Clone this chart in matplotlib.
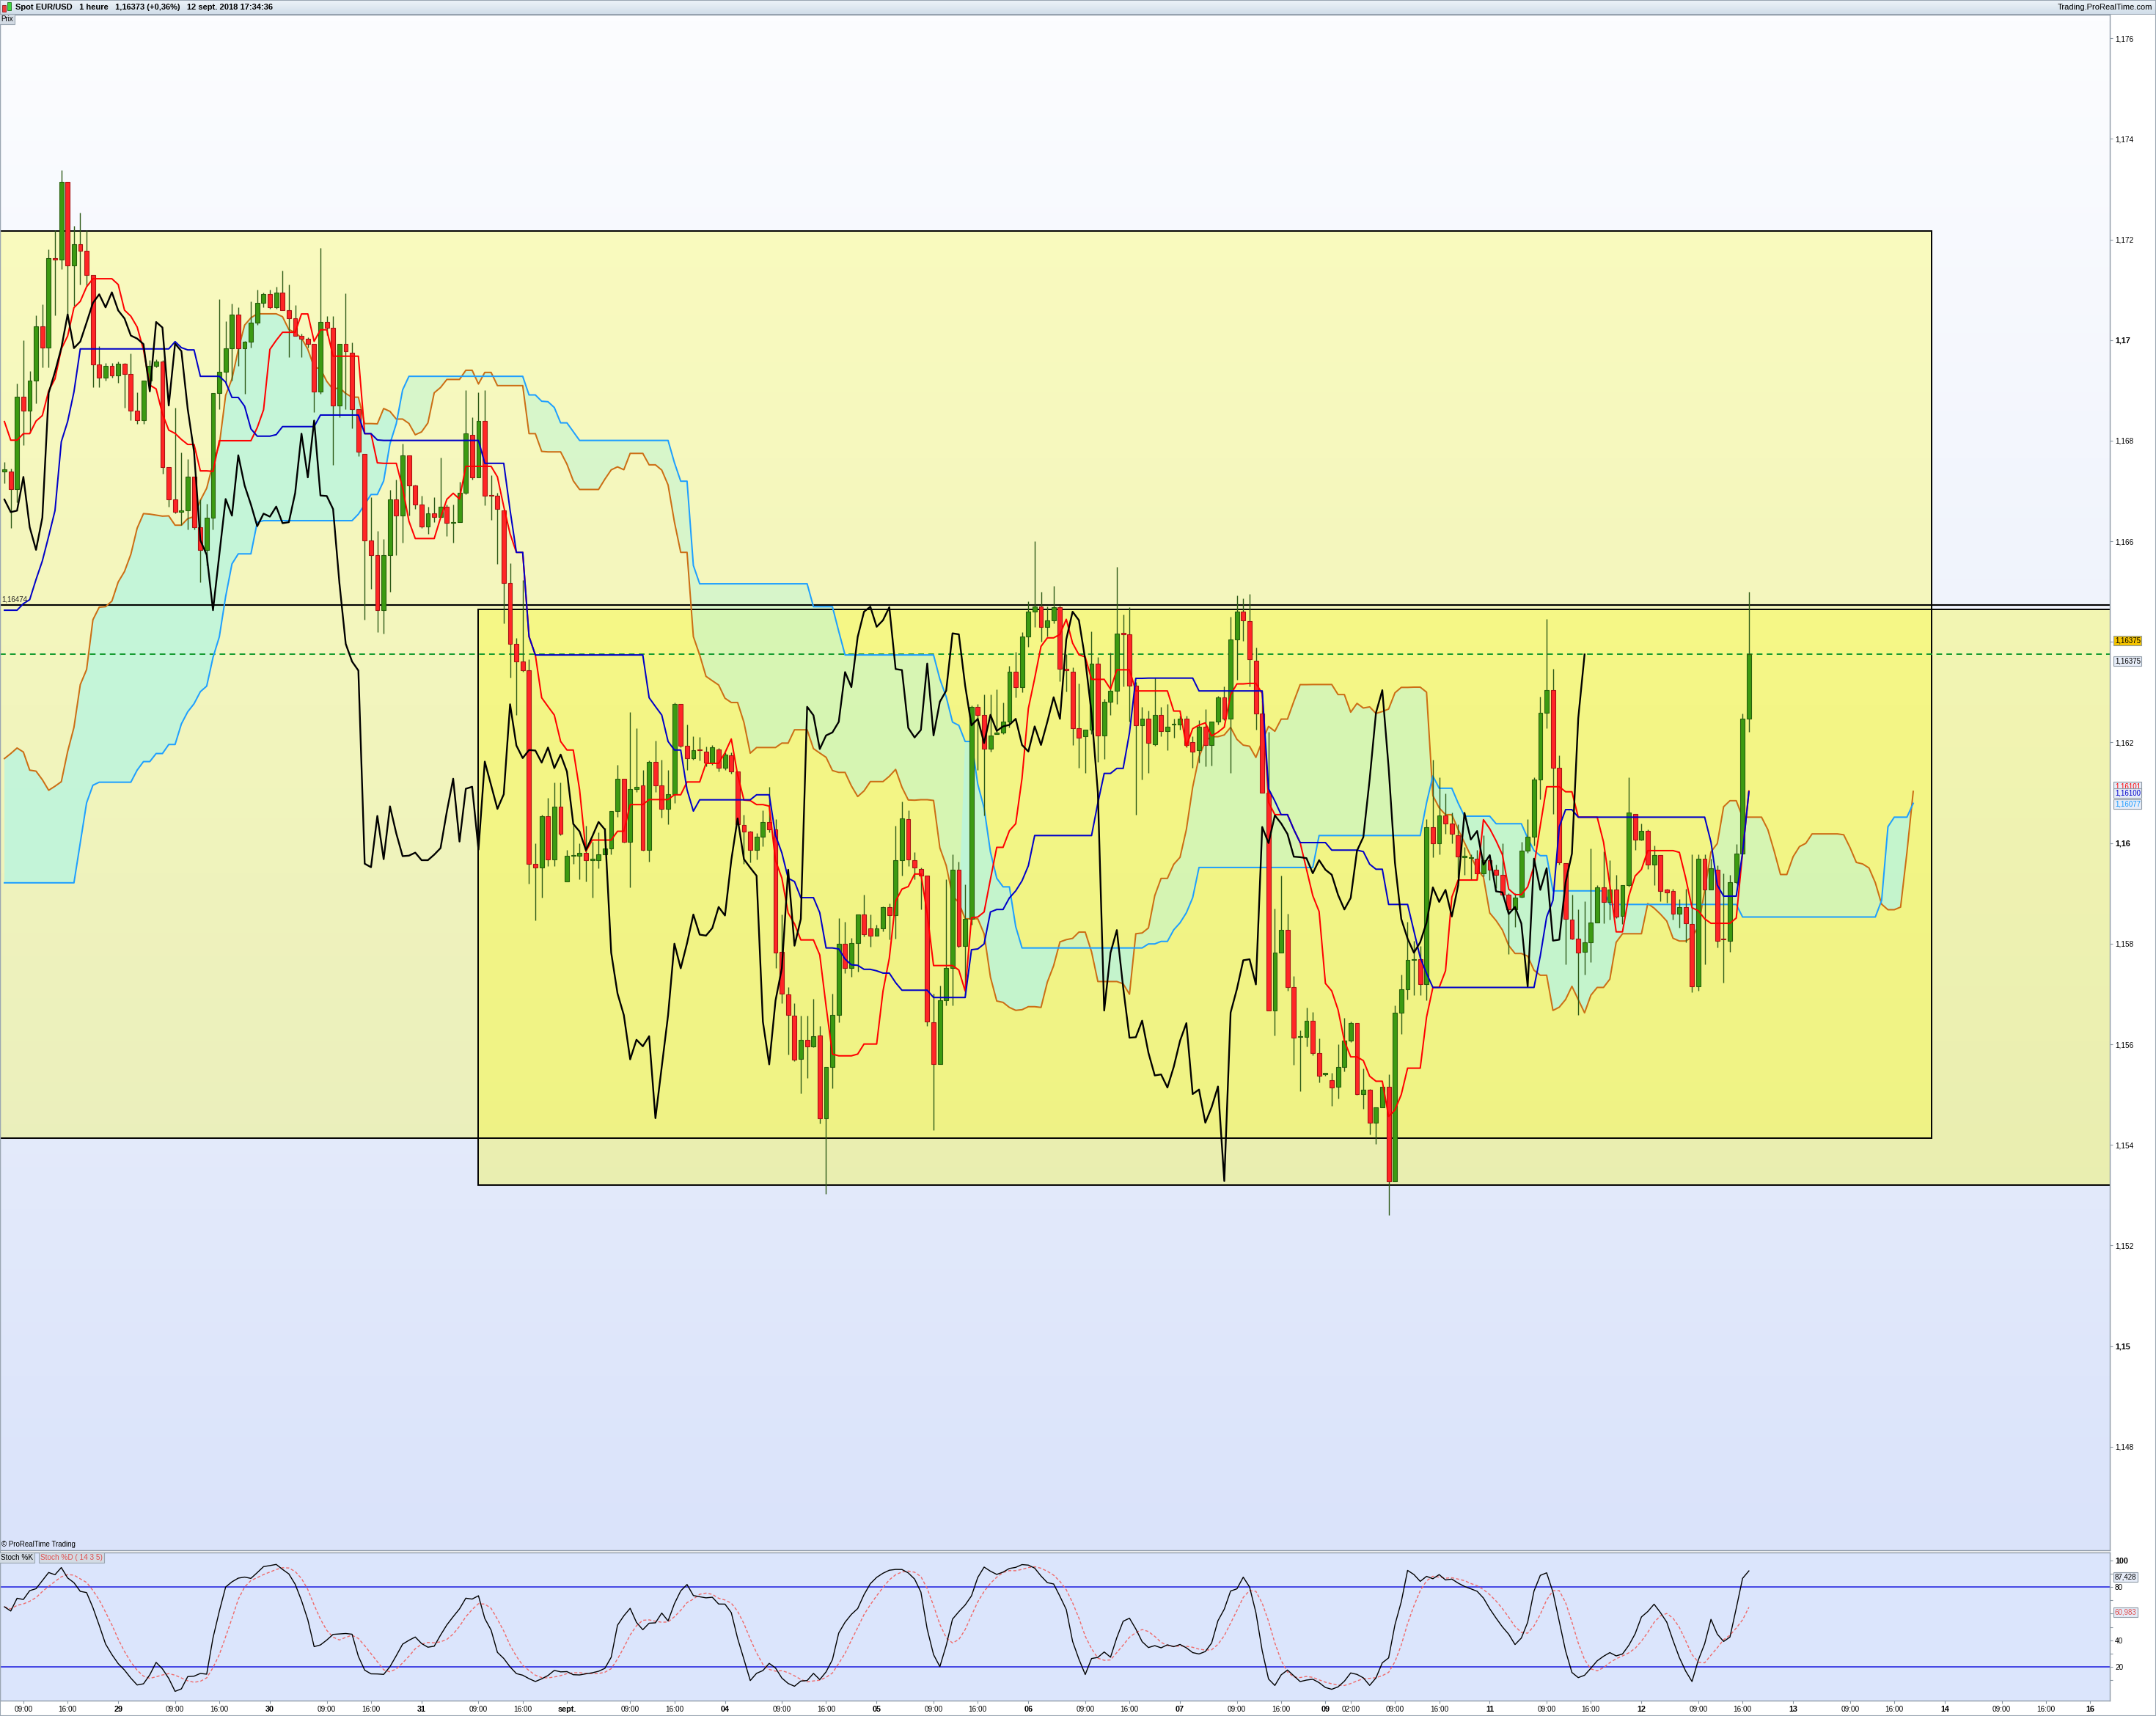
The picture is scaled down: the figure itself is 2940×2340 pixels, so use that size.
import numpy as np
import pandas as pd
import matplotlib
matplotlib.use("Agg")
import matplotlib.pyplot as plt
from matplotlib.patches import Rectangle
from matplotlib.colors import LinearSegmentedColormap

plt.rcParams['font.family'] = ['Liberation Sans', 'DejaVu Sans']

# trading sessions (date, first hour, last hour) -> one bar per hour
sessions = [("2018-08-28", 6, 23), ("2018-08-29", 0, 23), ("2018-08-30", 0, 23),
            ("2018-08-31", 0, 22), ("2018-09-02", 23, 23), ("2018-09-03", 0, 23),
            ("2018-09-04", 0, 23), ("2018-09-05", 0, 23), ("2018-09-06", 0, 23),
            ("2018-09-07", 0, 22), ("2018-09-09", 22, 23), ("2018-09-10", 0, 23),
            ("2018-09-11", 0, 23), ("2018-09-12", 0, 23), ("2018-09-13", 0, 23),
            ("2018-09-14", 0, 22), ("2018-09-16", 22, 23)]

# EUR/USD hourly candles, 28 Aug 06:00 -> 12 Sep 17:00
opens = [
 1.16738, 1.16739, 1.16704, 1.16888, 1.16860, 1.16920, 1.17028, 1.16985, 1.17163, 1.17160,
 1.17315, 1.17149, 1.17191, 1.17177, 1.17129, 1.16951, 1.16925, 1.16949, 1.16930, 1.16953,
 1.16933, 1.16860, 1.16841, 1.16919, 1.16949, 1.16957, 1.16747, 1.16683, 1.16658, 1.16661,
 1.16728, 1.16628, 1.16583, 1.16647, 1.16895, 1.16937, 1.16984, 1.17051, 1.16984, 1.16997,
 1.17035, 1.17074, 1.17091, 1.17065, 1.17095, 1.17059, 1.17043, 1.17009, 1.17003, 1.16992,
 1.16898, 1.17036, 1.17025, 1.16870, 1.16993, 1.16975, 1.16863, 1.16774, 1.16602, 1.16573,
 1.16463, 1.16573, 1.16684, 1.16651, 1.16771, 1.16711, 1.16673, 1.16630, 1.16655, 1.16649,
 1.16669, 1.16636, 1.16638, 1.16696, 1.16812, 1.16727, 1.16840, 1.16691, 1.16690, 1.16662,
 1.16517, 1.16396, 1.16361, 1.16343, 1.15959, 1.15952, 1.16054, 1.15968, 1.16073, 1.15923,
 1.15974, 1.15975, 1.15981, 1.15966, 1.15966, 1.15977, 1.15990, 1.16063, 1.16128, 1.16003,
 1.16108, 1.16115, 1.15987, 1.16162, 1.16115, 1.16068, 1.16097, 1.16276, 1.16194, 1.16169,
 1.16185, 1.16182, 1.16160, 1.16186, 1.16149, 1.16175, 1.16142, 1.16036, 1.16023, 1.15986,
 1.16012, 1.16042, 1.16027, 1.15784, 1.15699, 1.15657, 1.15571, 1.15609, 1.15596, 1.15617,
 1.15453, 1.15555, 1.15658, 1.15800, 1.15751, 1.15801, 1.15858, 1.15831, 1.15816, 1.15831,
 1.15873, 1.15856, 1.15966, 1.16047, 1.15966, 1.15949, 1.15935, 1.15644, 1.15560, 1.15687,
 1.15751, 1.15947, 1.15796, 1.15849, 1.16271, 1.16254, 1.16187, 1.16216, 1.16219, 1.16241,
 1.16340, 1.16310, 1.16410, 1.16460, 1.16470, 1.16430, 1.16443, 1.16469, 1.16346, 1.16340,
 1.16229, 1.16212, 1.16225, 1.16357, 1.16214, 1.16281, 1.16303, 1.16417, 1.16415, 1.16313,
 1.16234, 1.16247, 1.16197, 1.16255, 1.16223, 1.16235, 1.16235, 1.16247, 1.16201, 1.16184,
 1.16232, 1.16195, 1.16241, 1.16290, 1.16247, 1.16405, 1.16460, 1.16441, 1.16363, 1.16258,
 1.16100, 1.15667, 1.15782, 1.15827, 1.15713, 1.15614, 1.15614, 1.15647, 1.15583, 1.15540,
 1.15528, 1.15516, 1.15555, 1.15607, 1.15642, 1.15501, 1.15510, 1.15444, 1.15475, 1.15516,
 1.15328, 1.15663, 1.15710, 1.15767, 1.15769, 1.15719, 1.16032, 1.16000, 1.16055, 1.16039,
 1.16015, 1.15972, 1.15970, 1.15969, 1.15940, 1.15966, 1.15947, 1.15937, 1.15897, 1.15868,
 1.15893, 1.15985, 1.16012, 1.16127, 1.16259, 1.16304, 1.16149, 1.15960, 1.15848, 1.15810,
 1.15783, 1.15803, 1.15842, 1.15912, 1.15883, 1.15907, 1.15855, 1.15916, 1.16058, 1.16007,
 1.16024, 1.15957, 1.15976, 1.15907, 1.15905, 1.15859, 1.15873, 1.15839, 1.15715, 1.15969,
 1.15907, 1.15947, 1.15809, 1.15806, 1.15922, 1.15979, 1.16248]
highs = [
 1.16758, 1.16745, 1.16914, 1.17000, 1.16939, 1.17049, 1.17071, 1.17181, 1.17219, 1.17338,
 1.17315, 1.17227, 1.17254, 1.17219, 1.17129, 1.16988, 1.16955, 1.16955, 1.16958, 1.16954,
 1.16973, 1.16896, 1.16919, 1.16960, 1.16962, 1.16960, 1.16747, 1.16866, 1.16777, 1.16763,
 1.16728, 1.16684, 1.16675, 1.16895, 1.17082, 1.17037, 1.17073, 1.17065, 1.16998, 1.17077,
 1.17100, 1.17095, 1.17100, 1.17106, 1.17138, 1.17110, 1.17070, 1.17013, 1.17005, 1.16992,
 1.17184, 1.17048, 1.17048, 1.16993, 1.17093, 1.16995, 1.16863, 1.16774, 1.16687, 1.16621,
 1.16604, 1.16702, 1.16722, 1.16794, 1.16771, 1.16713, 1.16691, 1.16669, 1.16687, 1.16767,
 1.16673, 1.16673, 1.16718, 1.16901, 1.16847, 1.16896, 1.16901, 1.16731, 1.16696, 1.16662,
 1.16557, 1.16407, 1.16523, 1.16365, 1.15999, 1.16057, 1.16090, 1.16120, 1.16120, 1.15986,
 1.16039, 1.15999, 1.16035, 1.16003, 1.16021, 1.16030, 1.16063, 1.16155, 1.16128, 1.16261,
 1.16229, 1.16146, 1.16164, 1.16203, 1.16166, 1.16146, 1.16280, 1.16276, 1.16236, 1.16213,
 1.16211, 1.16192, 1.16195, 1.16189, 1.16180, 1.16180, 1.16142, 1.16057, 1.16025, 1.16020,
 1.16065, 1.16112, 1.16048, 1.15858, 1.15714, 1.15681, 1.15657, 1.15657, 1.15691, 1.15637,
 1.15555, 1.15701, 1.15851, 1.15844, 1.15811, 1.15858, 1.15898, 1.15858, 1.15838, 1.15874,
 1.15880, 1.16035, 1.16083, 1.16065, 1.15982, 1.15951, 1.15935, 1.15700, 1.15717, 1.15928,
 1.15978, 1.15963, 1.15918, 1.16273, 1.16276, 1.16296, 1.16296, 1.16306, 1.16279, 1.16352,
 1.16380, 1.16420, 1.16480, 1.16600, 1.16500, 1.16470, 1.16511, 1.16472, 1.16376, 1.16350,
 1.16318, 1.16225, 1.16421, 1.16370, 1.16286, 1.16379, 1.16549, 1.16454, 1.16469, 1.16320,
 1.16270, 1.16264, 1.16329, 1.16270, 1.16277, 1.16247, 1.16253, 1.16253, 1.16212, 1.16244,
 1.16267, 1.16241, 1.16292, 1.16312, 1.16450, 1.16493, 1.16486, 1.16495, 1.16389, 1.16284,
 1.16221, 1.15869, 1.15935, 1.15860, 1.15736, 1.15628, 1.15673, 1.15664, 1.15611, 1.15542,
 1.15543, 1.15600, 1.15652, 1.15645, 1.15642, 1.15552, 1.15511, 1.15475, 1.15516, 1.15540,
 1.15678, 1.15739, 1.15844, 1.15805, 1.15796, 1.16047, 1.16165, 1.16131, 1.16098, 1.16060,
 1.16038, 1.15992, 1.15977, 1.15986, 1.16016, 1.15977, 1.15957, 1.16000, 1.15900, 1.15900,
 1.16003, 1.16047, 1.16130, 1.16291, 1.16445, 1.16346, 1.16175, 1.15960, 1.15897, 1.15868,
 1.15885, 1.15989, 1.15917, 1.15983, 1.15966, 1.15937, 1.15916, 1.16131, 1.16058, 1.16039,
 1.16027, 1.15995, 1.15976, 1.15909, 1.15909, 1.15888, 1.15909, 1.15977, 1.15977, 1.15977,
 1.15969, 1.15956, 1.15940, 1.15937, 1.15998, 1.16258, 1.16500]
lows = [
 1.16715, 1.16627, 1.16678, 1.16791, 1.16816, 1.16874, 1.16945, 1.16945, 1.17049, 1.17141,
 1.17049, 1.17068, 1.17111, 1.17108, 1.16906, 1.16906, 1.16920, 1.16925, 1.16915, 1.16865,
 1.16841, 1.16833, 1.16833, 1.16899, 1.16945, 1.16734, 1.16669, 1.16656, 1.16632, 1.16623,
 1.16624, 1.16518, 1.16552, 1.16623, 1.16863, 1.16911, 1.16920, 1.16948, 1.16893, 1.16985,
 1.17030, 1.17065, 1.17062, 1.17063, 1.17059, 1.16966, 1.17008, 1.16966, 1.16985, 1.16857,
 1.16893, 1.17010, 1.16752, 1.16847, 1.16863, 1.16825, 1.16770, 1.16444, 1.16505, 1.16419,
 1.16417, 1.16499, 1.16573, 1.16597, 1.16651, 1.16664, 1.16627, 1.16615, 1.16638, 1.16648,
 1.16611, 1.16597, 1.16638, 1.16693, 1.16722, 1.16727, 1.16671, 1.16642, 1.16555, 1.16437,
 1.16329, 1.16255, 1.16340, 1.15920, 1.15847, 1.15892, 1.15955, 1.15955, 1.16015, 1.15923,
 1.15959, 1.15928, 1.15923, 1.15892, 1.15950, 1.15977, 1.15977, 1.16052, 1.16001, 1.15912,
 1.16102, 1.15985, 1.15963, 1.16102, 1.16050, 1.16037, 1.16079, 1.16191, 1.16146, 1.16166,
 1.16164, 1.16152, 1.16155, 1.16142, 1.16145, 1.16138, 1.16036, 1.15958, 1.15961, 1.15968,
 1.15993, 1.16022, 1.15751, 1.15681, 1.15580, 1.15567, 1.15503, 1.15533, 1.15594, 1.15443,
 1.15303, 1.15513, 1.15644, 1.15741, 1.15734, 1.15744, 1.15814, 1.15794, 1.15816, 1.15824,
 1.15808, 1.15810, 1.15935, 1.15955, 1.15928, 1.15868, 1.15637, 1.15430, 1.15560, 1.15677,
 1.15677, 1.15792, 1.15697, 1.15838, 1.16145, 1.16055, 1.16182, 1.16216, 1.16216, 1.16230,
 1.16290, 1.16300, 1.16390, 1.16430, 1.16400, 1.16410, 1.16437, 1.16322, 1.16301, 1.16195,
 1.16149, 1.16140, 1.16216, 1.16162, 1.16167, 1.16254, 1.16277, 1.16312, 1.16241, 1.16056,
 1.16126, 1.16140, 1.16193, 1.16212, 1.16184, 1.16209, 1.16225, 1.16190, 1.16149, 1.16160,
 1.16152, 1.16154, 1.16235, 1.16244, 1.16140, 1.16325, 1.16402, 1.16312, 1.16225, 1.16100,
 1.15667, 1.15618, 1.15782, 1.15706, 1.15559, 1.15507, 1.15595, 1.15578, 1.15524, 1.15538,
 1.15477, 1.15492, 1.15546, 1.15604, 1.15499, 1.15471, 1.15421, 1.15401, 1.15474, 1.15261,
 1.15327, 1.15620, 1.15689, 1.15698, 1.15697, 1.15688, 1.15972, 1.15977, 1.16018, 1.16000,
 1.15931, 1.15937, 1.15928, 1.15928, 1.15934, 1.15926, 1.15911, 1.15894, 1.15779, 1.15833,
 1.15891, 1.15981, 1.15995, 1.16087, 1.16229, 1.16058, 1.15957, 1.15759, 1.15808, 1.15658,
 1.15738, 1.15764, 1.15842, 1.15841, 1.15848, 1.15851, 1.15839, 1.15914, 1.15986, 1.16006,
 1.15949, 1.15916, 1.15884, 1.15882, 1.15848, 1.15832, 1.15803, 1.15704, 1.15707, 1.15759,
 1.15907, 1.15793, 1.15722, 1.15784, 1.15920, 1.15977, 1.16221]
closes = [
 1.16743, 1.16704, 1.16887, 1.16860, 1.16920, 1.17028, 1.16985, 1.17163, 1.17160, 1.17315,
 1.17149, 1.17191, 1.17177, 1.17129, 1.16951, 1.16925, 1.16949, 1.16930, 1.16953, 1.16933,
 1.16860, 1.16841, 1.16919, 1.16949, 1.16957, 1.16747, 1.16683, 1.16658, 1.16661, 1.16728,
 1.16628, 1.16583, 1.16647, 1.16895, 1.16937, 1.16984, 1.17051, 1.16984, 1.16997, 1.17035,
 1.17074, 1.17091, 1.17065, 1.17095, 1.17059, 1.17043, 1.17009, 1.17003, 1.16992, 1.16898,
 1.17036, 1.17025, 1.16870, 1.16993, 1.16978, 1.16863, 1.16778, 1.16602, 1.16573, 1.16463,
 1.16573, 1.16684, 1.16651, 1.16771, 1.16711, 1.16673, 1.16630, 1.16655, 1.16649, 1.16669,
 1.16636, 1.16638, 1.16696, 1.16814, 1.16727, 1.16840, 1.16691, 1.16690, 1.16664, 1.16517,
 1.16396, 1.16361, 1.16343, 1.15959, 1.15952, 1.16054, 1.15968, 1.16073, 1.16019, 1.15974,
 1.15975, 1.15981, 1.15966, 1.15966, 1.15977, 1.15990, 1.16063, 1.16128, 1.16003, 1.16108,
 1.16112, 1.15987, 1.16162, 1.16115, 1.16068, 1.16097, 1.16276, 1.16194, 1.16169, 1.16185,
 1.16184, 1.16160, 1.16190, 1.16149, 1.16176, 1.16142, 1.16038, 1.16023, 1.15986, 1.16013,
 1.16042, 1.16027, 1.15782, 1.15701, 1.15658, 1.15570, 1.15609, 1.15596, 1.15616, 1.15453,
 1.15555, 1.15658, 1.15800, 1.15751, 1.15801, 1.15858, 1.15818, 1.15816, 1.15831, 1.15873,
 1.15856, 1.15966, 1.16049, 1.15968, 1.15951, 1.15935, 1.15645, 1.15560, 1.15687, 1.15751,
 1.15947, 1.15796, 1.15849, 1.16271, 1.16254, 1.16187, 1.16214, 1.16220, 1.16241, 1.16340,
 1.16310, 1.16410, 1.16460, 1.16470, 1.16430, 1.16443, 1.16469, 1.16346, 1.16344, 1.16229,
 1.16210, 1.16225, 1.16357, 1.16214, 1.16281, 1.16303, 1.16417, 1.16415, 1.16313, 1.16234,
 1.16247, 1.16199, 1.16255, 1.16223, 1.16232, 1.16235, 1.16247, 1.16195, 1.16182, 1.16232,
 1.16195, 1.16241, 1.16290, 1.16247, 1.16405, 1.16460, 1.16443, 1.16365, 1.16258, 1.16100,
 1.15667, 1.15782, 1.15827, 1.15713, 1.15613, 1.15614, 1.15647, 1.15583, 1.15538, 1.15540,
 1.15514, 1.15555, 1.15607, 1.15642, 1.15501, 1.15510, 1.15444, 1.15475, 1.15516, 1.15328,
 1.15663, 1.15710, 1.15767, 1.15769, 1.15719, 1.16032, 1.16000, 1.16055, 1.16039, 1.16018,
 1.15973, 1.15972, 1.15970, 1.15940, 1.15966, 1.15947, 1.15937, 1.15897, 1.15868, 1.15891,
 1.15985, 1.16012, 1.16127, 1.16259, 1.16304, 1.16150, 1.15961, 1.15849, 1.15810, 1.15782,
 1.15803, 1.15842, 1.15912, 1.15883, 1.15907, 1.15854, 1.15916, 1.16060, 1.16007, 1.16024,
 1.15957, 1.15976, 1.15904, 1.15902, 1.15859, 1.15873, 1.15840, 1.15715, 1.15969, 1.15907,
 1.15950, 1.15806, 1.15808, 1.15922, 1.15979, 1.16248, 1.16375]

# indicator values at the left edge (their history starts before the first visible bar)
tenkan_lead = [1.16838, 1.16801, 1.16801, 1.16814, 1.16814, 1.16839, 1.16850, 1.16899]
kijun_lead = [1.16463, 1.16463, 1.16463, 1.16476, 1.16484, 1.16524, 1.16561, 1.16610,
              1.16661, 1.16798, 1.16838, 1.16897]
span_a_lead = [1.16168, 1.16178, 1.16189, 1.16181, 1.16145, 1.16143, 1.16126, 1.16105,
               1.16113, 1.16122, 1.16182, 1.16230, 1.16315, 1.16345, 1.16444, 1.16469,
               1.16470, 1.16481, 1.16519, 1.16540, 1.16574, 1.16626, 1.16655, 1.16654,
               1.16652, 1.16650]
span_b_lead = [1.15921, 1.15921, 1.15921, 1.15921, 1.15921, 1.15921, 1.15921, 1.15921,
               1.15921, 1.15921, 1.15921, 1.15921, 1.16000, 1.16080, 1.16115, 1.16121,
               1.16121, 1.16121, 1.16121, 1.16121, 1.16121, 1.16145, 1.16162, 1.16162,
               1.16178, 1.16178, 1.16196, 1.16196, 1.16237, 1.16261, 1.16277, 1.16301,
               1.16312, 1.16369, 1.16410, 1.16490, 1.16555, 1.16575, 1.16575, 1.16575,
               1.16638, 1.16641, 1.16641, 1.16641, 1.16641, 1.16641, 1.16641, 1.16641,
               1.16641, 1.16641, 1.16641, 1.16641, 1.16641, 1.16641, 1.16641, 1.16641,
               1.16654, 1.16673, 1.16693, 1.16693, 1.16720, 1.16794, 1.16834, 1.16901]

# drawn objects
hline_level = 1.16474
last_price = 1.16375
zone_wide = (-5.0, 304.9, 1.15413, 1.17217)     # start bar, end bar, low, high
zone_range = (74.9, 340.0, 1.15320, 1.16465)
cloud_tint_swap = 152                            # bar where the two cloud tints trade places

# right-axis value markers
price_marks = [("1,16375", 1.16375, '#f5c400', 'black', -19),
               ("1,16375", 1.16375, '#e6ecf8', 'black', 9),
               ("1,16101", 1.16101, '#e6ecf8', '#ff0000', -8),
               ("1,16100", 1.16100, '#e6ecf8', '#0000cc', 0),
               ("1,16077", 1.16077, '#e6ecf8', '#1a9cff', 0)]
stoch_marks = [("87,428", 87.428, 'black'), ("60,983", 60.983, '#e05050')]
hidden_price_ticks = [1.164]                     # covered by the price markers

tick_stamps = ["2018-08-28 09:00", "2018-08-28 16:00", "2018-08-29 00:00", "2018-08-29 09:00",
               "2018-08-29 16:00", "2018-08-30 00:00", "2018-08-30 09:00", "2018-08-30 16:00",
               "2018-08-31 00:00", "2018-08-31 09:00", "2018-08-31 16:00", "2018-09-02 23:00",
               "2018-09-03 09:00", "2018-09-03 16:00", "2018-09-04 00:00", "2018-09-04 09:00",
               "2018-09-04 16:00", "2018-09-05 00:00", "2018-09-05 09:00", "2018-09-05 16:00",
               "2018-09-06 00:00", "2018-09-06 09:00", "2018-09-06 16:00", "2018-09-07 00:00",
               "2018-09-07 09:00", "2018-09-07 16:00", "2018-09-09 22:00", "2018-09-10 02:00",
               "2018-09-10 09:00", "2018-09-10 16:00", "2018-09-11 00:00", "2018-09-11 09:00",
               "2018-09-11 16:00", "2018-09-12 00:00", "2018-09-12 09:00", "2018-09-12 16:00",
               "2018-09-13 00:00", "2018-09-13 09:00", "2018-09-13 16:00", "2018-09-14 00:00",
               "2018-09-14 09:00", "2018-09-14 16:00", "2018-09-16 22:00"]

# ---- bar index / calendar
stamps = []
session_starts = set()
for day, h0, h1 in sessions:
    session_starts.add(f"{day} {h0:02d}:00")
    for hr in range(h0, h1 + 1):
        stamps.append(f"{day} {hr:02d}:00")
bar_of = {s: i for i, s in enumerate(stamps)}

o = np.array(opens); h = np.array(highs); l = np.array(lows); c = np.array(closes)
n = len(c)
x = np.arange(n)

# ---- ichimoku
hs, ls, cs = pd.Series(h), pd.Series(l), pd.Series(c)
tenkan = ((hs.rolling(9, min_periods=1).max() + ls.rolling(9, min_periods=1).min()) / 2).values
tenkan[:len(tenkan_lead)] = tenkan_lead
kijun = ((hs.rolling(26, min_periods=1).max() + ls.rolling(26, min_periods=1).min()) / 2).values
kijun[:len(kijun_lead)] = kijun_lead
mid52 = ((hs.rolling(52, min_periods=1).max() + ls.rolling(52, min_periods=1).min()) / 2).values
span_a = np.concatenate([span_a_lead, (tenkan + kijun) / 2])
span_b = np.concatenate([np.full(26, np.nan), mid52])
span_b[:len(span_b_lead)] = span_b_lead
xs = np.arange(len(span_a))

# ---- stochastic 14 3 5
ll = ls.rolling(14, min_periods=1).min()
hh = hs.rolling(14, min_periods=1).max()
raw = 100 * (cs - ll) / (hh - ll)
stoch_k = raw.rolling(3, min_periods=1).mean()
stoch_d = stoch_k.rolling(5, min_periods=1).mean()

# ---- figure
W, H = 2940, 2340
fig = plt.figure(figsize=(W / 100, H / 100), dpi=100)
fig.patch.set_facecolor('white')

xlim = (-0.7, 333.1)
ylim = (1.14594, 1.17647)
axis_x = 2877 / W

ax = fig.add_axes([0, 1 - 2114 / H, axis_x, (2114 - 20) / H])
ax.set_xlim(*xlim)
ax.set_ylim(*ylim)

bg = LinearSegmentedColormap.from_list('bg', [(0, '#dae3fa'), (0.55, '#eef2fc'), (1, '#fcfdff')])
ax.imshow(np.linspace(0, 1, 256).reshape(-1, 1), cmap=bg, origin='lower', aspect='auto',
          extent=[xlim[0], xlim[1], ylim[0], ylim[1]], zorder=0)

zone_fills = [(1.0, 1.0, 0.08, 0.27), (0.98, 0.98, 0.05, 0.31)]
for (x0, x1, y0, y1), fc in zip([zone_wide, zone_range], zone_fills):
    ax.add_patch(Rectangle((x0, y0), x1 - x0, y1 - y0, facecolor=fc, edgecolor='none', zorder=1))

# cloud (two tints that trade places at cloud_tint_swap)
mint = ((0.72, 0.96, 0.88), 0.79)
green = ((0.76, 0.96, 0.83), 0.58)
early = xs <= cloud_tint_swap
late = xs >= cloud_tint_swap
a_up = span_a >= span_b
for mask, (col, al) in [(early & a_up, mint), (early & ~a_up, green),
                        (late & a_up, green), (late & ~a_up, mint)]:
    ax.fill_between(xs, span_a, span_b, where=mask, interpolate=True, color=col, alpha=al,
                    lw=0, zorder=1.5)

for (x0, x1, y0, y1) in [zone_wide, zone_range]:
    ax.add_patch(Rectangle((x0, y0), x1 - x0, y1 - y0, facecolor='none',
                           edgecolor='black', lw=1.4, zorder=2))

ax.axhline(hline_level, color='black', lw=1.5, zorder=2)
ax.text(xlim[0] + 0.3, hline_level + 0.00003, "1,16474", fontsize=7, va='bottom', ha='left',
        color='#222222', zorder=6)
ax.axhline(last_price, color='#119a2e', lw=1.4, dashes=(4, 3), zorder=2)

ax.plot(xs, span_a, color='#cc6e14', lw=1.45, zorder=3)
ax.plot(xs, span_b, color='#1e9fff', lw=1.45, zorder=3)

# candles
up = c >= o
ax.vlines(x, l, h, color='#2e5a18', lw=1.0, zorder=3.5)
body_lo = np.minimum(o, c)
body_h = np.maximum(np.abs(c - o), 0.000025)
ax.bar(x[up], body_h[up], bottom=body_lo[up], width=0.68, color='#3c9a12',
       edgecolor='#27600c', lw=0.8, zorder=4)
ax.bar(x[~up], body_h[~up], bottom=body_lo[~up], width=0.68, color='#ff2626',
       edgecolor='#a81414', lw=0.8, zorder=4)

ax.plot(x, tenkan, color='#ff0000', lw=1.45, zorder=5)
ax.plot(x, kijun, color='#0000c8', lw=1.45, zorder=5)
ax.plot(x[:-26], c[26:], color='black', lw=1.7, zorder=5)

ax.set_xticks([])
ax.yaxis.tick_right()
pticks = np.round(np.arange(1.148, 1.1761, 0.002), 3)
ax.set_yticks(pticks)
labels = []
for v in pticks:
    if any(abs(v - hv) < 1e-9 for hv in hidden_price_ticks):
        labels.append("")
    else:
        labels.append(f"{v:.3f}".rstrip('0').replace('.', ','))
ax.set_yticklabels(labels, fontsize=7.2)
for lab, v in zip(ax.get_yticklabels(), pticks):
    if abs(v * 100 - round(v * 100)) < 1e-6:
        lab.set_fontweight('bold')
        lab.set_fontsize(7.8)
ax.tick_params(axis='y', length=3, width=0.8, color='#8a96a2', pad=2)
for sp in ax.spines.values():
    sp.set_color('#8f9ba8')
    sp.set_linewidth(1.0)

for txt, val, fc, tc, dy in price_marks:
    ax.annotate(txt, xy=(1, val), xycoords=('axes fraction', 'data'),
                xytext=(5, -dy * 0.72), textcoords='offset points', fontsize=7.0, color=tc,
                va='center', ha='left', annotation_clip=False, zorder=10,
                bbox=dict(boxstyle='square,pad=0.15', fc=fc, ec='#8e9aa6', lw=0.8))

# ---- stochastic panel
ax2 = fig.add_axes([0, 1 - 2319 / H, axis_x, (2319 - 2117) / H])
ax2.set_facecolor('#dbe5fc')
ax2.set_xlim(*xlim)
ax2.set_ylim(-5.1, 105.8)
ax2.axhline(80, color='#2a2ae0', lw=1.2)
ax2.axhline(20, color='#2a2ae0', lw=1.2)
ax2.plot(x, stoch_d, color='#f06a6a', lw=1.0, dashes=(3, 2))
ax2.plot(x, stoch_k, color='black', lw=1.0)
ax2.yaxis.tick_right()
ax2.set_yticks([20, 40, 60, 80, 100])
ax2.set_yticklabels(["20", "40", "", "80", "100"], fontsize=7.2)
ax2.get_yticklabels()[-1].set_fontweight('bold')
ax2.get_yticklabels()[-1].set_fontsize(7.8)
ax2.set_yticks([10, 30, 50, 70, 90], minor=True)
ax2.tick_params(axis='y', which='both', length=3, width=0.8, color='#8a96a2', pad=2)

tpos, ttxt, tbold = [], [], []
prev_month = stamps[0][5:7]
for s in tick_stamps:
    tpos.append(bar_of[s])
    if s in session_starts or s.endswith("00:00"):
        if s[5:7] != prev_month:
            ttxt.append("sept.")
        else:
            ttxt.append(s[8:10])
        tbold.append(True)
    else:
        ttxt.append(s[11:16])
        tbold.append(False)
    prev_month = s[5:7]
ax2.set_xticks(tpos)
ax2.set_xticklabels(ttxt, fontsize=7.2)
for lab, b in zip(ax2.get_xticklabels(), tbold):
    if b:
        lab.set_fontweight('bold')
        lab.set_fontsize(7.8)
ax2.tick_params(axis='x', length=3, width=0.8, color='#8a96a2', pad=2)
for sp in ax2.spines.values():
    sp.set_color('#8f9ba8')
    sp.set_linewidth(1.0)

for txt, val, tc in stoch_marks:
    ax2.annotate(txt, xy=(1, val), xycoords=('axes fraction', 'data'), xytext=(5, 0),
                 textcoords='offset points', fontsize=7.0, color=tc, va='center', ha='left',
                 annotation_clip=False, zorder=10,
                 bbox=dict(boxstyle='square,pad=0.15', fc='#e6ecf8', ec='#8e9aa6', lw=0.8))

# ---- header
hdr = fig.add_axes([0, 1 - 20 / H, 1, 20 / H])
hcm = LinearSegmentedColormap.from_list('hdr', ['#cfdce8', '#eef4f9'])
hdr.imshow(np.linspace(0, 1, 64).reshape(-1, 1), cmap=hcm, origin='lower', aspect='auto',
           extent=[0, 1, 0, 1])
hdr.set_xlim(0, 1)
hdr.set_ylim(0, 1)
hdr.axis('off')
hdr.axhline(0.02, color='#8f9ba8', lw=1.2)
hdr.add_patch(Rectangle((3 / W, 0.2), 5 / W, 0.45, fc='#ee3b3b', ec='#8a1a1a', lw=0.6))
hdr.add_patch(Rectangle((10 / W, 0.3), 5 / W, 0.55, fc='#3fd83f', ec='#1a6a1a', lw=0.6))
hdr.text(21 / W, 0.5, "Spot EUR/USD   1 heure   1,16373 (+0,36%)   12 sept. 2018 17:34:36",
         fontsize=8, fontweight='bold', va='center', ha='left')
hdr.text(2935 / W, 0.5, "Trading.ProRealTime.com", fontsize=8, va='center', ha='right')

fig.text(1 / W, 1 - 21 / H, "Prix", fontsize=7, va='top', ha='left',
         bbox=dict(boxstyle='square,pad=0.2', fc='#d3dbe4', ec='#9aa6b2', lw=0.8))
fig.text(2 / W, 1 - 2111 / H, "\u00a9 ProRealTime Trading", fontsize=7, va='bottom', ha='left')
fig.text(1 / W, 1 - 2119 / H, "Stoch %K", fontsize=7.2, va='top', ha='left',
         bbox=dict(boxstyle='square,pad=0.2', fc='#d3dbe4', ec='#9aa6b2', lw=0.8))
fig.text(55 / W, 1 - 2119 / H, "Stoch %D ( 14 3 5)", fontsize=7.2, va='top', ha='left',
         color='#e05050', bbox=dict(boxstyle='square,pad=0.2', fc='#d3dbe4', ec='#9aa6b2', lw=0.8))

fig.patches.append(Rectangle((0, 0), 1, 1, transform=fig.transFigure, fill=False,
                             ec='#9aa6b2', lw=1.5))

fig.savefig("out.png", dpi=100)
